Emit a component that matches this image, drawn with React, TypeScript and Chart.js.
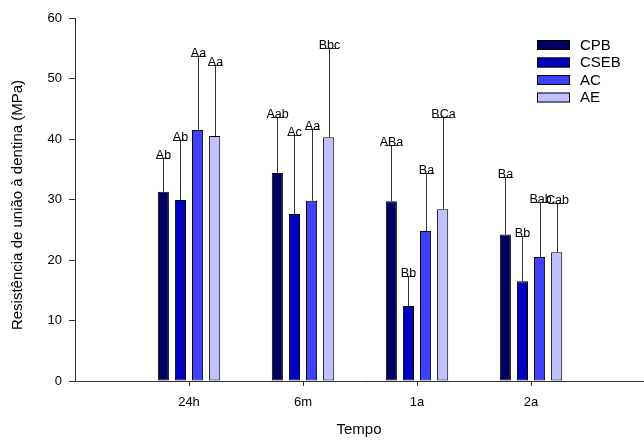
import React, { useEffect, useRef } from "react";
import { Chart, registerables } from "chart.js";

Chart.register(...registerables);

const categories = ["24h", "6m", "1a", "2a"];
const seriesNames = ["CPB", "CSEB", "AC", "AE"];
const cpb = [31.3, 34.4, 29.7, 24.2];
const cseb = [29.9, 27.6, 12.4, 16.5];
const ac = [41.5, 29.8, 24.8, 20.5];
const ae = [40.5, 40.3, 28.4, 21.3];
const cpbSd = [5.5, 9.3, 9.3, 9.5];
const csebSd = [9.9, 13.1, 5.0, 7.5];
const acSd = [12.3, 11.9, 9.5, 9.1];
const aeSd = [11.8, 14.7, 15.3, 8.2];
const cpbLetters = ["Ab", "Aab", "ABa", "Ba"];
const csebLetters = ["Ab", "Ac", "Bb", "Bb"];
const acLetters = ["Aa", "Aa", "Ba", "Bab"];
const aeLetters = ["Aa", "Bbc", "BCa", "Cab"];
const yTicks = [0, 10, 20, 30, 40, 50, 60];

const colors = ["#000060", "#0000C0", "#4040FF", "#C0C0FF"];
const values = [cpb, cseb, ac, ae];
const sds = [cpbSd, csebSd, acSd, aeSd];
const letters = [cpbLetters, csebLetters, acLetters, aeLetters];

const FONT = "Arial, 'Liberation Sans', sans-serif";

const overlay = {
  id: "overlay",
  afterDatasetsDraw(chart: any) {
    const ctx = chart.ctx;
    const yScale = chart.scales.y;
    ctx.save();
    chart.data.datasets.forEach((ds: any, di: number) => {
      const meta = chart.getDatasetMeta(di);
      meta.data.forEach((el: any, i: number) => {
        const top = values[di][i] + sds[di][i];
        const capY = Math.round(yScale.getPixelForValue(top)) + 0.5;
        const x = Math.round(el.x) + 0.5;
        const w = el.width;
        ctx.strokeStyle = "#333";
        ctx.lineWidth = 1;
        ctx.beginPath();
        ctx.moveTo(x, el.y);
        ctx.lineTo(x, capY);
        ctx.moveTo(x - w / 2 - 1, capY);
        ctx.lineTo(x + w / 2 + 1, capY);
        ctx.stroke();
        ctx.fillStyle = "#000";
        ctx.font = `12.5px ${FONT}`;
        ctx.textAlign = "center";
        ctx.textBaseline = "alphabetic";
        ctx.fillText(letters[di][i], x, capY);
      });
    });
    // legend
    const rows = [45, 62.5, 80, 97.5];
    seriesNames.forEach((n, i) => {
      ctx.fillStyle = colors[i];
      ctx.fillRect(537, rows[i] - 5, 33, 10);
      ctx.strokeStyle = "#000";
      ctx.strokeRect(537.5, rows[i] - 4.5, 32, 9);
      ctx.fillStyle = "#000";
      ctx.font = `15px ${FONT}`;
      ctx.textAlign = "left";
      ctx.textBaseline = "middle";
      ctx.fillText(n, 580, rows[i] + 0.5);
    });
    // titles
    ctx.font = `15px ${FONT}`;
    ctx.textAlign = "center";
    ctx.textBaseline = "middle";
    ctx.fillText("Tempo", 359, 430);
    ctx.save();
    ctx.translate(18, 205);
    ctx.rotate(-Math.PI / 2);
    ctx.font = `15px ${FONT}`;
    ctx.fillText("Resistência de união à dentina (MPa)", 0, 0);
    ctx.restore();
    ctx.restore();
  },
};

export default function App() {
  const ref = useRef<HTMLCanvasElement>(null);
  useEffect(() => {
    if (!ref.current) return;
    const chart = new Chart(ref.current, {
      type: "bar",
      data: {
        datasets: seriesNames.map((n, di) => ({
          label: n,
          data: values[di].map((v, i) => ({ x: i + 1, y: v })),
          backgroundColor: colors[di],
          borderColor: "#000",
          borderWidth: 1,
          borderSkipped: false,
          barPercentage: 0.65,
          categoryPercentage: 0.6,
        })),
      },
      options: {
        animation: false,
        responsive: false,
        maintainAspectRatio: false,
        layout: { padding: { left: 0, right: 15, top: 18, bottom: 0 } },
        plugins: { legend: { display: false }, tooltip: { enabled: false } },
        scales: {
          x: {
            type: "linear",
            min: 0,
            max: 5,
            offset: false,
            afterBuildTicks: (s: any) => {
              s.ticks = categories.map((_, i) => ({ value: i + 1 }));
            },
            afterFit: (s: any) => {
              s.height = 60;
            },
            ticks: {
              callback: (v: any) => categories[Number(v) - 1] ?? "",
              color: "#000",
              font: { size: 13, family: FONT },
              padding: 9,
              maxRotation: 0,
              autoSkip: false,
            },
            grid: { display: true, offset: false, drawOnChartArea: false, drawTicks: true, tickLength: 5, color: "#333" },
            border: { display: true, color: "#333", width: 1 },
          },
          y: {
            min: 0,
            max: 60,
            afterBuildTicks: (s: any) => {
              s.ticks = yTicks.map((v) => ({ value: v }));
            },
            afterFit: (s: any) => {
              s.width = 75;
            },
            ticks: {
              color: "#000",
              font: { size: 13, family: FONT },
              padding: 7,
            },
            grid: { display: true, offset: false, drawOnChartArea: false, drawTicks: true, tickLength: 6, color: "#333" },
            border: { display: true, color: "#333", width: 1 },
          },
        },
      },
      plugins: [overlay],
    });
    return () => chart.destroy();
  }, []);
  return (
    <div style={{ position: "fixed", left: 0, top: 0, width: 660, height: 441, background: "#fff" }}>
      <canvas ref={ref} width={660} height={441} />
    </div>
  );
}
